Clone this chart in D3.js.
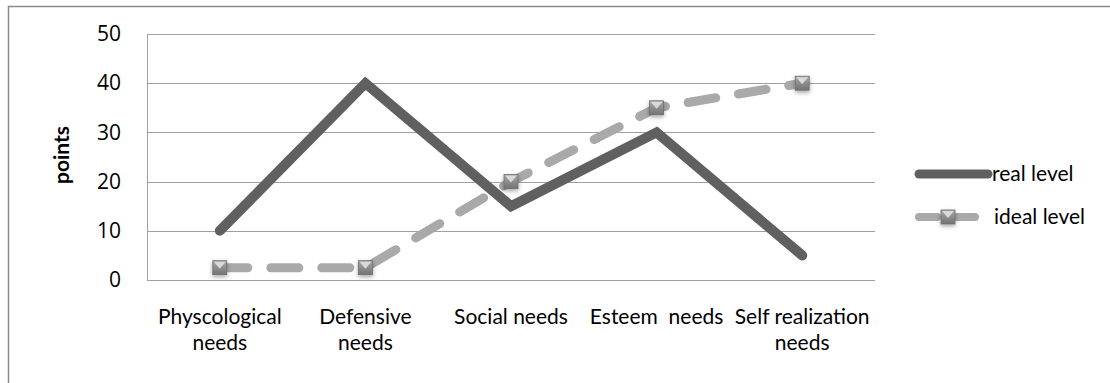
<!DOCTYPE html>
<html>
<head>
<meta charset="utf-8">
<script src="https://cdn.jsdelivr.net/npm/d3@7"></script>
<style>
  body { margin: 0; background: #fff; }
  text { fill: #000; }
</style>
</head>
<body>
<div id="chart"></div>
<script>
// data
var categories = ["Physcological needs", "Defensive needs", "Social needs", "Esteem  needs", "Self realization needs"];
var realLevel = [10, 40, 15, 30, 5];
var idealLevel = [2.5, 2.5, 20, 35, 40];
var yTicks = [0, 10, 20, 30, 40, 50];
var seriesNames = ["real level", "ideal level"];

var svgWidth = 1110, svgHeight = 383;

var svg = d3.select("#chart").append("svg")
    .attr("width", svgWidth)
    .attr("height", svgHeight);

// outer chart border (runs off the right and bottom)
svg.append("rect")
    .attr("x", 8.5).attr("y", 6.5)
    .attr("width", 1200).attr("height", 500)
    .attr("fill", "none")
    .attr("stroke", "#8a8a8a")
    .attr("stroke-width", 1.5);

var plot = {left: 147, right: 875, top: 34, bottom: 280};

var xScale = d3.scalePoint()
    .domain(categories)
    .range([plot.left, plot.right])
    .padding(0.5);

var yScale = d3.scaleLinear()
    .domain([0, 50])
    .range([plot.bottom, plot.top]);

// gridlines
svg.append("g").selectAll("line")
    .data(yTicks)
    .enter().append("line")
    .attr("x1", plot.left).attr("x2", plot.right)
    .attr("y1", d => Math.round(yScale(d)) + 0.5)
    .attr("y2", d => Math.round(yScale(d)) + 0.5)
    .attr("stroke", "#a0a0a0")
    .attr("stroke-width", 1);

// left axis line
svg.append("line")
    .attr("x1", plot.left + 0.5).attr("x2", plot.left + 0.5)
    .attr("y1", plot.top).attr("y2", plot.bottom)
    .attr("stroke", "#a0a0a0");

// y tick labels
var yAxis = d3.axisLeft(yScale).tickValues(yTicks).tickSize(0).tickPadding(26);
var yg = svg.append("g")
    .attr("transform", `translate(${plot.left},0)`)
    .call(yAxis);
yg.select(".domain").remove();
yg.selectAll("text")
    .attr("font-family", "Open Sans")
    .attr("font-size", "21px")
    .attr("fill", "#000");

// y axis title
svg.append("text")
    .attr("transform", "translate(69,155) rotate(-90)")
    .attr("text-anchor", "middle")
    .attr("font-family", "Lato")
    .attr("font-weight", "bold")
    .attr("font-size", "21px")
    .text("points");

// category labels, wrapped
var catLines = {
    "Physcological needs": ["Physcological", "needs"],
    "Defensive needs": ["Defensive", "needs"],
    "Social needs": ["Social needs"],
    "Esteem  needs": ["Esteem  needs"],
    "Self realization needs": ["Self realization", "needs"]
};
var xg = svg.append("g");
categories.forEach(function(c) {
    var t = xg.append("text")
        .attr("x", xScale(c))
        .attr("y", 324)
        .attr("text-anchor", "middle")
        .attr("font-family", "Lato")
        .attr("font-size", "21px")
        .style("white-space", "pre");
    catLines[c].forEach(function(l, i) {
        t.append("tspan")
            .attr("x", xScale(c))
            .attr("dy", i === 0 ? 0 : 26)
            .text(l);
    });
});

// defs: marker gradient and shadow
var defs = svg.append("defs");
var grad = defs.append("linearGradient").attr("id", "mk").attr("x1", 0).attr("y1", 0).attr("x2", 0).attr("y2", 1);
grad.append("stop").attr("offset", "0%").attr("stop-color", "#a8a8a8");
grad.append("stop").attr("offset", "100%").attr("stop-color", "#727272");
var sh = defs.append("filter").attr("id", "sh").attr("x", "-50%").attr("y", "-50%").attr("width", "200%").attr("height", "200%");
sh.append("feDropShadow").attr("dx", 0).attr("dy", 2).attr("stdDeviation", 2).attr("flood-color", "#000").attr("flood-opacity", 0.35);

var line = d3.line()
    .x((d, i) => xScale(categories[i]))
    .y(d => yScale(d));

// ideal level (dashed, light)
svg.append("path")
    .datum(idealLevel)
    .attr("d", line)
    .attr("fill", "none")
    .attr("stroke", "#a9a9a9")
    .attr("stroke-width", 9)
    .attr("stroke-linecap", "round")
    .attr("stroke-linejoin", "round")
    .attr("stroke-dasharray", "28,23");

// real level (solid, dark)
svg.append("path")
    .datum(realLevel)
    .attr("d", line)
    .attr("fill", "none")
    .attr("stroke", "#606060")
    .attr("stroke-width", 10)
    .attr("stroke-linecap", "round")
    .attr("stroke-linejoin", "miter");

function drawMarker(g, cx, cy) {
    var s = 14;
    var m = g.append("g").attr("transform", `translate(${cx - s / 2},${cy - s / 2})`);
    m.append("rect")
        .attr("width", s).attr("height", s)
        .attr("fill", "url(#mk)")
        .attr("stroke", "#6e6e6e")
        .attr("stroke-width", 0.8)
        .attr("filter", "url(#sh)");
    m.append("path")
        .attr("d", `M1,1 L${s - 1},1 L${s / 2},${s / 2 + 1} Z`)
        .attr("fill", "#e4e4e4")
        .attr("opacity", 0.85);
}

var markers = svg.append("g");
idealLevel.forEach(function(v, i) {
    drawMarker(markers, xScale(categories[i]), yScale(v));
});

// legend
var lg = svg.append("g");
lg.append("line")
    .attr("x1", 919).attr("x2", 988)
    .attr("y1", 174).attr("y2", 174)
    .attr("stroke", "#606060")
    .attr("stroke-width", 9)
    .attr("stroke-linecap", "round");
lg.append("text")
    .attr("x", 992).attr("y", 181)
    .attr("font-family", "Lato")
    .attr("font-size", "21px")
    .text(seriesNames[0]);

lg.append("line")
    .attr("x1", 919).attr("x2", 975)
    .attr("y1", 217).attr("y2", 217)
    .attr("stroke", "#a9a9a9")
    .attr("stroke-width", 8)
    .attr("stroke-linecap", "round")
    .attr("stroke-dasharray", "18,20");
drawMarker(lg, 948, 217);
lg.append("text")
    .attr("x", 994).attr("y", 224)
    .attr("font-family", "Lato")
    .attr("font-size", "21px")
    .text(seriesNames[1]);
</script>
</body>
</html>
